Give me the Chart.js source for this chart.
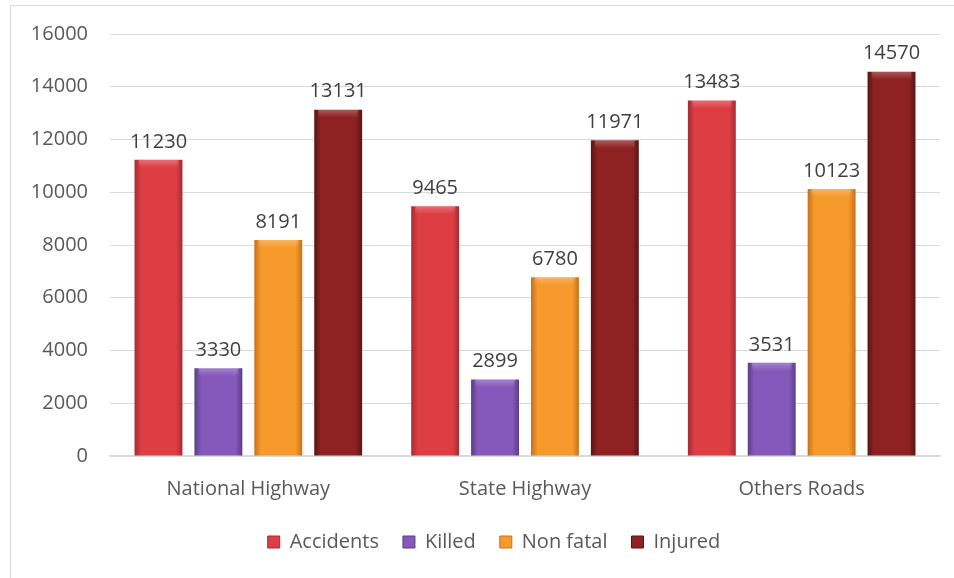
<!DOCTYPE html>
<html>
<head>
<meta charset="utf-8">
<script src="https://cdn.jsdelivr.net/npm/chart.js@4.4.0/dist/chart.umd.min.js"></script>
<style>
  html, body { margin: 0; padding: 0; background: #fff; }
  #wrap { width: 954px; height: 578px; position: relative; }
</style>
</head>
<body>
<div id="wrap"><canvas id="myChart" width="954" height="578"></canvas></div>
<script>
var categories = ['National Highway', 'State Highway', 'Others Roads'];
var accidents = [11230, 9465, 13483];
var killed = [3330, 2899, 3531];
var nonFatal = [8191, 6780, 10123];
var injured = [13131, 11971, 14570];
var yTicks = [0, 2000, 4000, 6000, 8000, 10000, 12000, 14000, 16000];

// barvy: [okraj, střed]
var shades = [
    ['#a52c31', '#dd3e44'],
    ['#5b3d88', '#8459bb'],
    ['#c8701a', '#f69a2c'],
    ['#5a1515', '#8e2222']
];
var FONT = '"Open Sans", sans-serif';

function barGradient(ctx, x0, x1, s) {
    var g = ctx.createLinearGradient(x0, 0, x1, 0);
    g.addColorStop(0, s[0]);
    g.addColorStop(0.14, s[1]);
    g.addColorStop(0.86, s[1]);
    g.addColorStop(1, s[0]);
    return g;
}

var fancyBars = {
    id: 'fancyBars',
    afterLayout: function (chart) {
        // legenda je v originále posunutá doprava
        chart.legend.left += 24;
        chart.legend.right += 24;
    },
    beforeDatasetsDraw: function (chart) {
        var ctx = chart.ctx;
        chart.data.datasets.forEach(function (ds, i) {
            chart.getDatasetMeta(i).data.forEach(function (bar) {
                var l = bar.x - bar.width / 2, r = bar.x + bar.width / 2;
                // každý sloupec má vlastní kopii options, jinak se gradient sdílí
                bar.options = Object.assign({}, bar.options, {
                    backgroundColor: barGradient(ctx, l, r, shades[i])
                });
            });
        });
    },
    afterDatasetsDraw: function (chart) {
        var ctx = chart.ctx;
        ctx.save();
        ctx.font = '20px ' + FONT;
        ctx.textAlign = 'center';
        ctx.textBaseline = 'bottom';
        chart.data.datasets.forEach(function (ds, i) {
            chart.getDatasetMeta(i).data.forEach(function (bar, j) {
                var l = bar.x - bar.width / 2;
                // světlý horní okraj
                var hg = ctx.createLinearGradient(0, bar.y, 0, bar.y + 8);
                hg.addColorStop(0, 'rgba(255,255,255,0.25)');
                hg.addColorStop(1, 'rgba(255,255,255,0)');
                ctx.fillStyle = hg;
                ctx.fillRect(l + 4, bar.y, bar.width - 8, 8);
                ctx.fillStyle = '#404040';
                ctx.fillText(ds.data[j], bar.x, bar.y - 8);
            });
        });
        ctx.restore();
    },
    afterDraw: function (chart) {
        var ctx = chart.ctx;
        ctx.save();
        ctx.strokeStyle = '#d9d9d9';
        ctx.lineWidth = 1;
        ctx.strokeRect(10.5, 5.5, 1000, 700);
        ctx.restore();
    }
};

function legendBoxes(chart) {
    return chart.data.datasets.map(function (ds, i) {
        return {
            text: ds.label,
            fillStyle: shades[i][1],
            strokeStyle: shades[i][0],
            lineWidth: 1,
            hidden: false,
            datasetIndex: i,
            fontColor: '#595959'
        };
    });
}

var ctx = document.getElementById('myChart').getContext('2d');
var myChart = new Chart(ctx, {
    type: 'bar',
    data: {
        labels: categories,
        datasets: [
            { label: 'Accidents', data: accidents, backgroundColor: shades[0][1] },
            { label: 'Killed', data: killed, backgroundColor: shades[1][1] },
            { label: 'Non fatal', data: nonFatal, backgroundColor: shades[2][1] },
            { label: 'Injured', data: injured, backgroundColor: shades[3][1] }
        ]
    },
    options: {
        responsive: false,
        animation: false,
        layout: { padding: { top: 34, right: 14, bottom: 16, left: 0 } },
        datasets: {
            bar: { categoryPercentage: 0.866, barPercentage: 0.8 }
        },
        plugins: {
            legend: {
                position: 'bottom',
                labels: {
                    boxWidth: 12,
                    boxHeight: 12,
                    padding: 24,
                    color: '#595959',
                    font: { family: FONT, size: 20 },
                    generateLabels: legendBoxes
                }
            },
            tooltip: { enabled: false }
        },
        scales: {
            x: {
                grid: { display: false, drawTicks: false },
                border: { color: '#d9d9d9', width: 1.5 },
                ticks: { color: '#595959', padding: 21, font: { family: FONT, size: 20 } },
                afterFit: function (s) { s.height = 52; }
            },
            y: {
                min: 0,
                max: 16000,
                afterBuildTicks: function (s) { s.ticks = yTicks.map(function (v) { return { value: v }; }); },
                grid: { color: '#d9d9d9', drawTicks: false },
                border: { display: false },
                ticks: {
                    color: '#595959',
                    padding: 22,
                    font: { family: FONT, size: 20 },
                    callback: function (v) { return String(v); }
                },
                afterFit: function (s) { s.width = 110; }
            }
        }
    },
    plugins: [fancyBars]
});
</script>
</body>
</html>
